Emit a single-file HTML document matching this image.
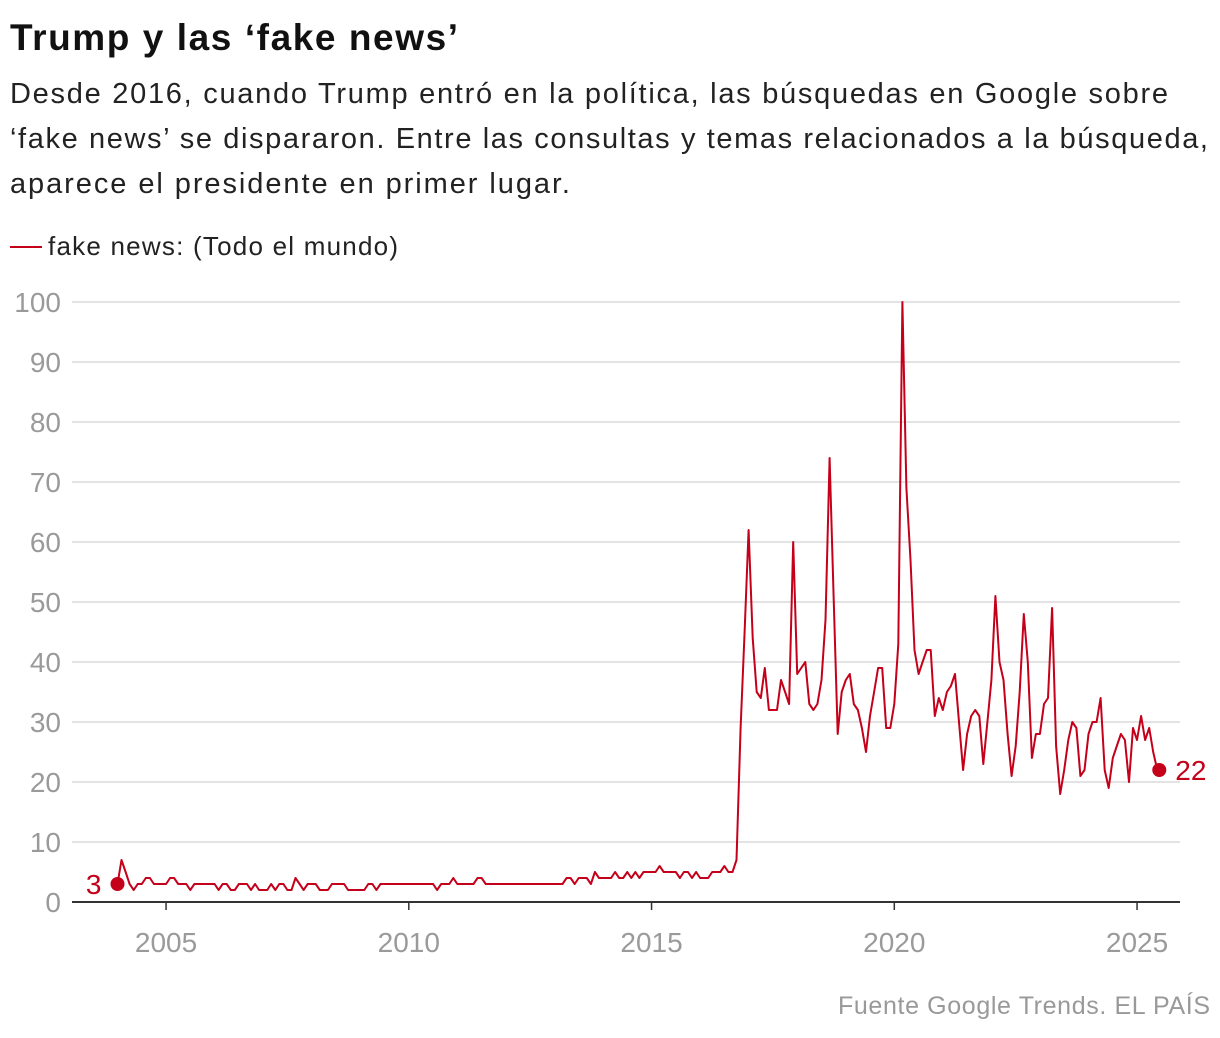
<!DOCTYPE html>
<html><head><meta charset="utf-8"><style>
body{margin:0;width:1220px;height:1038px;background:#fff;font-family:"Liberation Sans",sans-serif;overflow:hidden}
.fit{position:absolute;white-space:nowrap}
#title{left:10px;top:17px;font-size:37px;font-weight:bold;color:#111}
.sub{left:10px;font-size:29px;color:#222}
#src{top:992px;left:838px;font-size:25px;color:#999}
#legend-text{left:48px;top:231px;font-size:26px;color:#222}
svg{position:absolute;left:0;top:0}
</style></head><body>
<div id="title" class="fit" data-w="448">Trump y las ‘fake news’</div>
<div class="fit sub" style="top:78px" data-w="1158">Desde 2016, cuando Trump entró en la política, las búsquedas en Google sobre</div>
<div class="fit sub" style="top:123px" data-w="1198">‘fake news’ se dispararon. Entre las consultas y temas relacionados a la búsqueda,</div>
<div class="fit sub" style="top:168px" data-w="560">aparece el presidente en primer lugar.</div>
<div id="legend-text" class="fit" data-w="350">fake news: (Todo el mundo)</div>
<div id="src" class="fit" data-w="372">Fuente Google Trends. EL PAÍS</div>
<svg id="chart" width="1220" height="1038"></svg>
<script>
const yTicks=[0,10,20,30,40,50,60,70,80,90,100];
const xTicks=[2005,2010,2015,2020,2025];
const startYear=2004;
const values=[
3,7,5,3,2,3,3,4,4,3,3,3,
3,4,4,3,3,3,2,3,3,3,3,3,
3,2,3,3,2,2,3,3,3,2,3,2,
2,2,3,2,3,3,2,2,4,3,2,3,
3,3,2,2,2,3,3,3,3,2,2,2,
2,2,3,3,2,3,3,3,3,3,3,3,
3,3,3,3,3,3,3,2,3,3,3,4,
3,3,3,3,3,4,4,3,3,3,3,3,
3,3,3,3,3,3,3,3,3,3,3,3,
3,3,3,4,4,3,4,4,4,3,5,4,
4,4,4,5,4,4,5,4,5,4,5,5,
5,5,6,5,5,5,5,4,5,5,4,5,
4,4,4,5,5,5,6,5,5,7,29,45,
62,44,35,34,39,32,32,32,37,35,33,60,
38,39,40,33,32,33,37,47,74,51,28,35,
37,38,33,32,29,25,31,35,39,39,29,29,
33,43,100,69,57,42,38,40,42,42,31,34,
32,35,36,38,30,22,28,31,32,31,23,30,
37,51,40,37,28,21,26,35,48,40,24,28,
28,33,34,49,26,18,22,27,30,29,21,22,
28,30,30,34,22,19,24,26,28,27,20,29,
27,31,27,29,25,22];
document.querySelectorAll('.fit').forEach(el=>{
  const target=+el.dataset.w;const w=el.getBoundingClientRect().width;
  const n=el.textContent.length-1;
  el.style.letterSpacing=((target-w)/n)+'px';
});
const NS="http://www.w3.org/2000/svg";
const svg=document.getElementById('chart');
const x=t=>117.5+(t-startYear)*48.55;
const y=v=>902-v*6;
const RED="#c4001a";
function mk(tag,attrs,parent){const e=document.createElementNS(NS,tag);for(const k in attrs)e.setAttribute(k,attrs[k]);(parent||svg).appendChild(e);return e;}
yTicks.forEach(v=>{
  if(v>0){const g=mk('line',{x1:72,x2:1180,y1:y(v),y2:y(v),stroke:'#e3e3e3','stroke-width':2});
  
  }
  const t=mk('text',{x:61,y:y(v)+10,'text-anchor':'end','font-size':28,fill:'#9a9a9a','font-family':'Liberation Sans, sans-serif'});
  t.textContent=v;
  
  
});
const ax=mk('line',{x1:72,x2:1180,y1:902,y2:902,stroke:'#333','stroke-width':2});


xTicks.forEach(yr=>{
  const tk=mk('line',{x1:x(yr),x2:x(yr),y1:902,y2:910,stroke:'#333','stroke-width':1.5});
  
  
  const t=mk('text',{x:x(yr),y:952,'text-anchor':'middle','font-size':28,fill:'#9a9a9a','font-family':'Liberation Sans, sans-serif'});
  t.textContent=yr;
  
  
});
const pts=values.map((v,i)=>x(startYear+i/12).toFixed(1)+','+y(v).toFixed(1)).join(' ');
const pl=mk('polyline',{points:pts,fill:'none',stroke:RED,'stroke-width':2,'stroke-linejoin':'round'});


const n=values.length-1;
const d0=mk('circle',{cx:x(startYear),cy:y(values[0]),r:7,fill:RED});


const d1=mk('circle',{cx:x(startYear+n/12)+2,cy:y(values[n]),r:7,fill:RED});


const l0=mk('text',{x:x(startYear)-16,y:y(values[0])+10,'text-anchor':'end','font-size':28,fill:RED,'font-family':'Liberation Sans, sans-serif'});
l0.textContent=values[0];


const l1=mk('text',{x:x(startYear+n/12)+18,y:y(values[n])+10,'font-size':28,fill:RED,'font-family':'Liberation Sans, sans-serif'});
l1.textContent=values[n];


const lg=mk('line',{x1:10,x2:42,y1:247,y2:247,stroke:RED,'stroke-width':2});


</script>
</body></html>
